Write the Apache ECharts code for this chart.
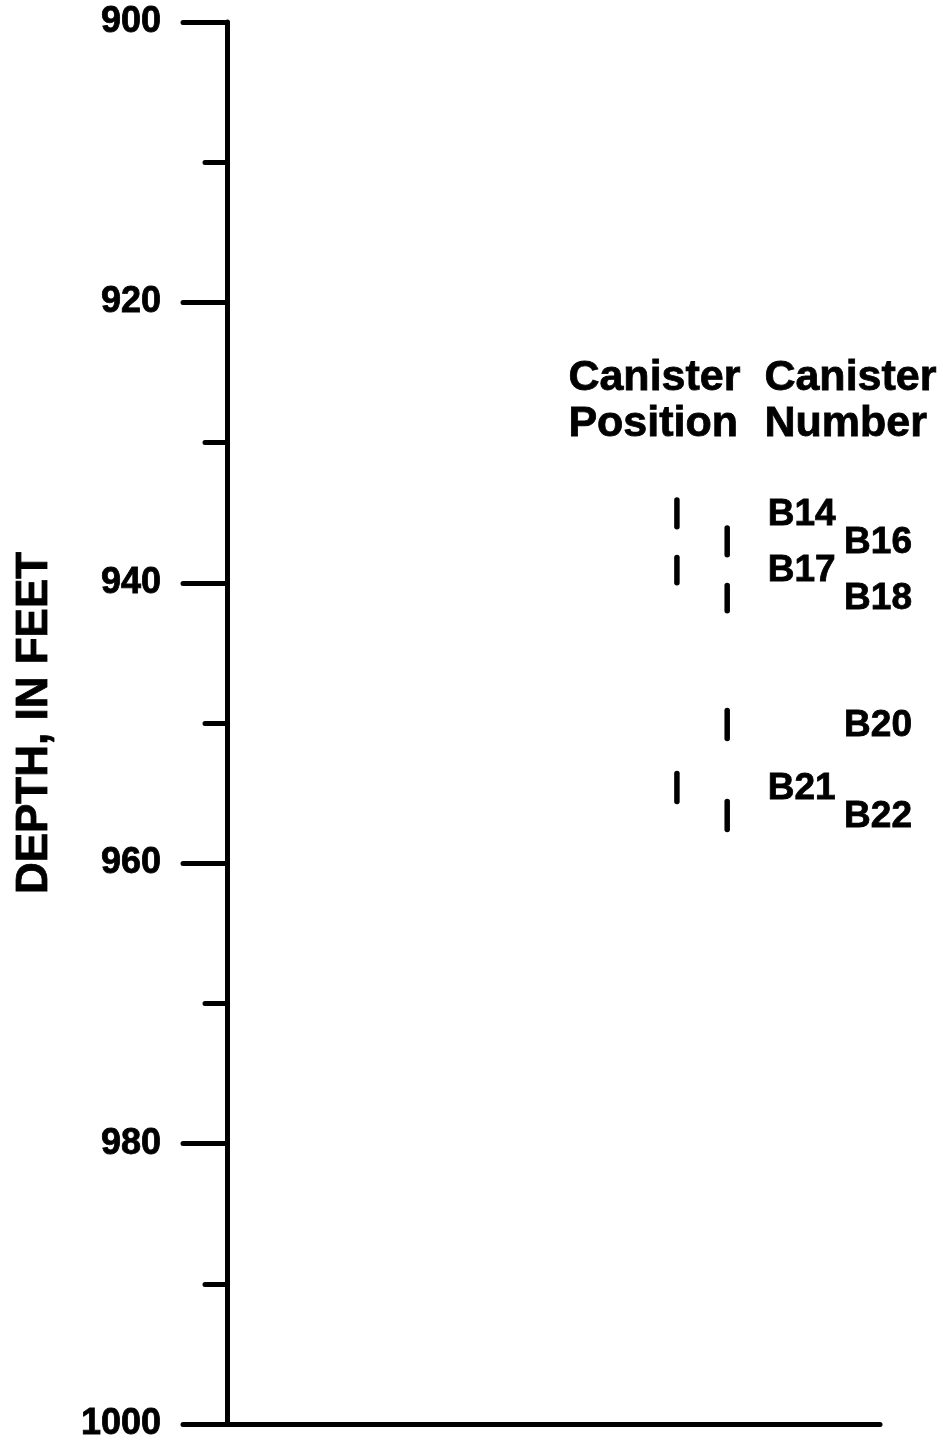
<!DOCTYPE html>
<html>
<head>
<meta charset="utf-8">
<script src="https://cdn.jsdelivr.net/npm/echarts@6/dist/echarts.min.js"></script>
<style>
html,body{margin:0;padding:0;background:#fff;}
#chart{width:943px;height:1443px;}
</style>
</head>
<body>
<div id="chart"></div>
<script>
// ---- data ----
const canisterNumbers = ['B14', 'B16', 'B17', 'B18', 'B20', 'B21', 'B22'];
const canisterPosition = [1, 2, 1, 2, 2, 1, 2];           // column of the mark
const topDepth    = [934.1, 936.1, 938.2, 940.2, 949.1, 953.6, 955.6];
const bottomDepth = [936.0, 938.0, 940.0, 942.0, 951.1, 955.6, 957.6];
const depthTicks = [900, 920, 940, 960, 980, 1000];
const headers = ['Canister\nPosition', 'Canister\nNumber'];
const yAxisTitle = 'DEPTH, IN FEET';

// ---- layout (x axis units 0..100) ----
const markX  = {1: 68.9, 2: 76.6};
const labelX = {1: 82.8, 2: 94.5};
const FONT = '"Liberation Sans", Arial, sans-serif';
const HEAVY = {textBorderColor: '#000', textBorderWidth: 0.8};

const seriesData = canisterNumbers.map((n, i) => [canisterPosition[i], topDepth[i], bottomDepth[i], n]);

const chart = echarts.init(document.getElementById('chart'));
chart.setOption({
  backgroundColor: '#fff',
  animation: false,
  grid: {left: 227, right: 63, top: 22, bottom: 19, containLabel: false},
  xAxis: {
    type: 'value', min: 0, max: 100, position: 'bottom',
    axisLine: {show: true, lineStyle: {color: '#000', width: 5, cap: 'round'}},
    axisTick: {show: false}, axisLabel: {show: false}, splitLine: {show: false}
  },
  yAxis: {
    type: 'value', inverse: true, min: depthTicks[0], max: depthTicks[depthTicks.length - 1], interval: 20,
    name: yAxisTitle, nameLocation: 'middle', nameRotate: 90, nameGap: 170,
    nameTextStyle: Object.assign({fontSize: 44, fontWeight: 'bold', fontFamily: FONT, color: '#000'}, HEAVY),
    axisLine: {show: true, lineStyle: {color: '#000', width: 5}},
    axisTick: {show: true, length: 44, lineStyle: {color: '#000', width: 5, cap: 'round'}},
    minorTick: {show: true, splitNumber: 2, length: 22, lineStyle: {color: '#000', width: 5, cap: 'round'}},
    axisLabel: Object.assign({show: true, margin: 66, fontSize: 36, fontWeight: 'bold', fontFamily: FONT, color: '#000',
      formatter: v => depthTicks.includes(v) ? String(v) : ''}, HEAVY),
    splitLine: {show: false}
  },
  graphic: [
    {type: 'text', left: 568, top: 355, style: {text: headers[0], font: 'bold 43px ' + FONT, fill: '#000', lineHeight: 46, stroke: '#000', lineWidth: 0.8}},
    {type: 'text', left: 764, top: 355, style: {text: headers[1], font: 'bold 43px ' + FONT, fill: '#000', lineHeight: 46, stroke: '#000', lineWidth: 0.8}}
  ],
  series: [{
    type: 'custom',
    data: seriesData,
    clip: false,
    renderItem: function (params, api) {
      const col = api.value(0);
      const p1 = api.coord([markX[col], api.value(1)]);
      const p2 = api.coord([markX[col], api.value(2)]);
      const lp = api.coord([labelX[col], (api.value(1) + api.value(2)) / 2]);
      return {
        type: 'group',
        children: [
          {type: 'line', shape: {x1: p1[0], y1: p1[1], x2: p2[0], y2: p2[1]},
           style: {stroke: '#000', lineWidth: 5.5, lineCap: 'round'}},
          {type: 'text', x: lp[0], y: lp[1] + 1,
           style: {text: canisterNumbers[params.dataIndex], font: 'bold 37px ' + FONT, fill: '#000',
                   stroke: '#000', lineWidth: 0.8,
                   textAlign: 'left', textVerticalAlign: 'middle'}}
        ]
      };
    }
  }]
});
</script>
</body>
</html>
